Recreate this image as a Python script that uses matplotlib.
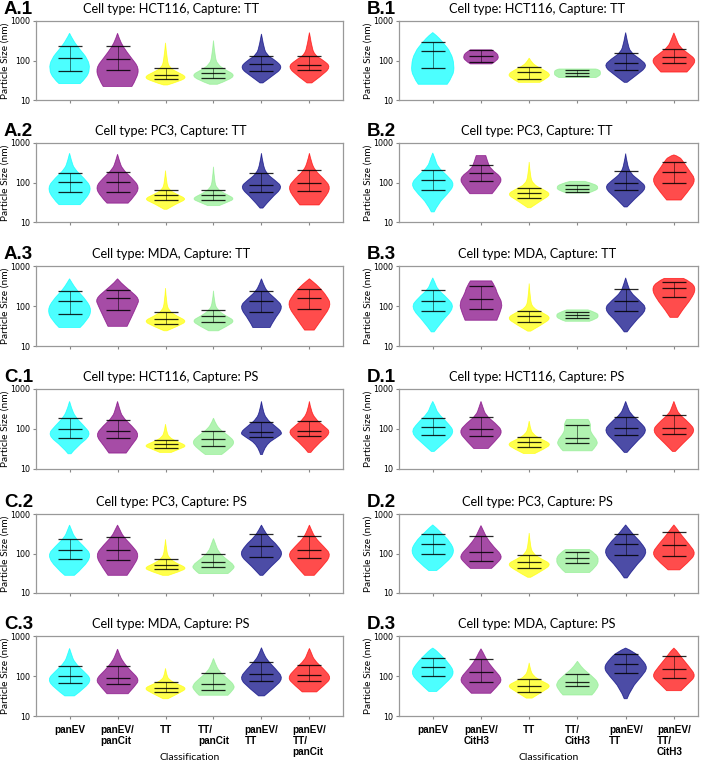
import numpy as np
import matplotlib
matplotlib.use('Agg')
import matplotlib.pyplot as plt
from matplotlib.path import Path
from matplotlib.patches import PathPatch
from matplotlib.ticker import NullLocator

#------------------------------------
# data
#   shapes: per violin (size nm, half width) from bottom to top
#   stats : per violin (low, mid, high) bars in nm
#------------------------------------

colors = ['cyan', 'purple', 'yellow', 'lightgreen', 'navy', 'red']

labels_left  = ['panEV', 'panEV/\npanCit', 'TT', 'TT/\npanCit', 'panEV/\nTT', 'panEV/\nTT/\npanCit']
labels_right = ['panEV', 'panEV/\nCitH3', 'TT', 'TT/\nCitH3', 'panEV/\nTT', 'panEV/\nTT/\nCitH3']

titles_left  = ['Cell type: HCT116, Capture: TT', 'Cell type: PC3, Capture: TT', 'Cell type: MDA, Capture: TT',
                'Cell type: HCT116, Capture: PS', 'Cell type: PC3, Capture: PS', 'Cell type: MDA, Capture: PS']
titles_right = titles_left
tags_left  = ['A.1', 'A.2', 'A.3', 'C.1', 'C.2', 'C.3']
tags_right = ['B.1', 'B.2', 'B.3', 'D.1', 'D.2', 'D.3']

a1_shapes = [
    [(26, .22), (35, .34), (60, .43), (110, .38), (200, .2), (330, .07), (490, 0)],
    [(22, .30), (35, .40), (65, .45), (120, .28), (220, .12), (350, .04), (490, 0)],
    [(24, .04), (30, .30), (38, .45), (50, .26), (65, .08), (110, .03), (280, 0)],
    [(25, .08), (32, .32), (43, .45), (57, .26), (80, .08), (130, .03), (320, 0)],
    [(27, .03), (40, .22), (65, .45), (100, .3), (140, .1), (250, .04), (470, 0)],
    [(27, .05), (40, .24), (68, .45), (100, .3), (140, .1), (260, .04), (510, 0)]]
a1_stats = [(54, 119, 229), (56, 112, 229), (35, 44, 63), (37, 47, 65), (54, 81, 129), (56, 79, 131)]

b1_shapes = [
    [(25, .30), (40, .42), (75, .45), (160, .38), (300, .2), (430, .08), (510, 0)],
    [(82, .22), (100, .34), (130, .37), (165, .30), (186, .22)],
    [(28, .22), (36, .38), (45, .44), (58, .3), (75, .12), (95, .04), (115, 0)],
    [(37, .38), (41, .47), (50, .48), (58, .46), (61, .38)],
    [(28, .03), (42, .22), (72, .46), (110, .3), (160, .1), (280, .04), (510, 0)],
    [(51, .27), (70, .38), (105, .46), (150, .3), (220, .12), (350, .05), (500, 0)]]
b1_stats = [(65, 169, 300), (93, 132, 186), (35, 51, 68), (41, 48, 57), (59, 86, 154), (86, 122, 194)]

a2_shapes = [
    [(27.5, .22), (40, .36), (75, .46), (130, .3), (220, .1), (350, .04), (550, 0)],
    [(30, .22), (45, .36), (77, .46), (130, .3), (220, .1), (350, .04), (520, 0)],
    [(21, .03), (30, .25), (38, .45), (50, .24), (65, .07), (100, .02), (200, 0)],
    [(26, .12), (32, .3), (39, .45), (52, .24), (70, .07), (110, .02), (250, 0)],
    [(22.5, .03), (40, .2), (75, .45), (115, .28), (170, .1), (300, .03), (550, 0)],
    [(27, .2), (40, .32), (75, .45), (125, .3), (200, .12), (330, .04), (550, 0)]]
a2_stats = [(59, 103, 179), (57, 103, 186), (37, 47, 63), (37, 47, 65), (59, 88, 179), (60, 99, 205)]

b2_shapes = [
    [(18, .03), (30, .12), (50, .3), (90, .46), (150, .3), (250, .1), (400, .05), (560, 0)],
    [(52, .23), (80, .36), (130, .45), (220, .2), (330, .14), (480, .1)],
    [(23, .03), (35, .25), (50, .46), (68, .28), (90, .08), (150, .02), (330, 0)],
    [(54, .22), (62, .38), (75, .44), (92, .36), (107, .15)],
    [(24, .03), (40, .2), (74, .45), (115, .28), (170, .1), (300, .03), (540, 0)],
    [(36, .15), (60, .3), (115, .46), (200, .32), (330, .2), (450, .12), (500, 0)]]
b2_stats = [(66, 119, 204), (108, 175, 270), (41, 53, 73), (57, 69, 86), (63, 98, 200), (98, 182, 330)]

a3_shapes = [
    [(29, .22), (45, .38), (80, .46), (140, .35), (250, .15), (380, .05), (480, 0)],
    [(31, .2), (55, .3), (100, .4), (150, .46), (250, .25), (380, .07), (480, 0)],
    [(24, .03), (32, .28), (42, .45), (55, .25), (75, .07), (120, .02), (280, 0)],
    [(24, .1), (32, .3), (43, .45), (57, .25), (80, .08), (120, .02), (240, 0)],
    [(29, .18), (45, .26), (94, .46), (150, .3), (230, .12), (350, .04), (480, 0)],
    [(25, .1), (45, .25), (104, .46), (180, .36), (300, .2), (400, .08), (480, 0)]]
a3_stats = [(64, 133, 233), (81, 162, 257), (36, 48, 71), (40, 55, 81), (71, 130, 233), (86, 158, 270)]

b3_shapes = [
    [(22.5, .03), (40, .18), (93, .46), (160, .3), (260, .1), (400, .04), (505, 0)],
    [(44, .33), (70, .4), (117, .45), (200, .34), (300, .3), (425, .22)],
    [(23.5, .03), (35, .28), (50, .46), (68, .28), (90, .07), (150, .02), (365, 0)],
    [(41.5, .25), (48, .40), (57, .44), (68, .40), (80, .22)],
    [(22.5, .03), (40, .18), (84, .46), (140, .28), (220, .1), (350, .04), (505, 0)],
    [(52, .08), (80, .18), (150, .36), (265, .46), (400, .36), (490, .2)]]
b3_stats = [(76, 134, 250), (84, 153, 315), (40, 55, 76), (50, 60, 72), (76, 134, 260), (172, 290, 400)]

c1_shapes = [
    [(24, .03), (36, .15), (71, .46), (120, .3), (200, .12), (330, .04), (490, 0)],
    [(25, .18), (40, .3), (71, .46), (120, .3), (200, .1), (330, .04), (490, 0)],
    [(26, .12), (32, .3), (38, .45), (48, .25), (62, .07), (90, .02), (132, 0)],
    [(23, .17), (33, .35), (48, .45), (70, .3), (100, .12), (150, .03), (187, 0)],
    [(23, .02), (40, .08), (65, .35), (80, .45), (120, .28), (180, .1), (300, .03), (490, 0)],
    [(26, .03), (40, .15), (80, .46), (120, .3), (180, .12), (300, .03), (490, 0)]]
c1_stats = [(61, 100, 187), (59, 87, 170), (34, 42.5, 53), (38, 55.5, 90), (62, 83, 148), (65, 90, 154)]

d1_shapes = [
    [(27.5, .03), (42, .2), (81, .46), (140, .32), (250, .1), (380, .05), (490, 0)],
    [(32.6, .15), (50, .3), (86, .46), (140, .3), (220, .1), (350, .04), (490, 0)],
    [(24.5, .12), (32, .32), (42, .46), (55, .26), (75, .07), (110, .02), (158, 0)],
    [(28.5, .30), (38, .40), (50, .42), (75, .30), (100, .26), (140, .28), (174, .22)],
    [(26, .03), (45, .2), (89, .46), (150, .3), (240, .1), (360, .04), (490, 0)],
    [(27.5, .03), (45, .2), (89, .46), (150, .3), (240, .1), (360, .04), (490, 0)]]
d1_stats = [(70, 114, 190), (65, 102, 198), (34.5, 46, 64.5), (44, 61, 123), (70, 108, 203), (74, 108, 218)]

c2_shapes = [
    [(28, .1), (45, .3), (91, .46), (150, .3), (260, .1), (400, .04), (525, 0)],
    [(28, .2), (45, .32), (91, .46), (160, .3), (270, .12), (400, .05), (525, 0)],
    [(28, .06), (35, .3), (43, .45), (55, .25), (75, .07), (120, .02), (228, 0)],
    [(31, .30), (40, .42), (50, .44), (70, .28), (110, .1), (180, .04), (240, 0)],
    [(28, .03), (50, .22), (91, .46), (160, .34), (260, .15), (400, .05), (525, 0)],
    [(28, .1), (45, .26), (91, .46), (150, .3), (250, .12), (400, .04), (525, 0)]]
c2_stats = [(72, 122, 228), (68, 126, 265), (40, 50.5, 74.5), (46, 61.5, 100), (82, 154, 310), (78, 126, 280)]

d2_shapes = [
    [(37, .08), (60, .3), (110, .46), (200, .36), (330, .18), (450, .07), (530, 0)],
    [(42, .22), (60, .36), (86, .45), (150, .26), (250, .12), (380, .05), (510, 0)],
    [(25, .03), (38, .3), (54, .46), (72, .26), (100, .07), (170, .02), (330, 0)],
    [(33, .25), (45, .38), (68, .45), (100, .38), (126, .25)],
    [(24, .03), (45, .18), (100, .46), (180, .34), (300, .16), (430, .06), (530, 0)],
    [(38.5, .12), (60, .3), (100, .46), (170, .32), (300, .15), (430, .06), (530, 0)]]
d2_stats = [(100, 178, 305), (66, 110, 276), (42, 61, 94), (56, 75, 108), (89, 178, 316), (87, 168, 346)]

c3_shapes = [
    [(31.8, .1), (50, .32), (82, .46), (130, .3), (220, .1), (350, .04), (490, 0)],
    [(36, .22), (55, .36), (82, .46), (140, .26), (240, .1), (350, .04), (470, 0)],
    [(27, .05), (38, .3), (49, .45), (62, .26), (80, .07), (110, .02), (155, 0)],
    [(33, .30), (45, .42), (59, .44), (85, .3), (130, .12), (200, .04), (275, 0)],
    [(31.8, .06), (50, .26), (87, .46), (150, .3), (250, .12), (380, .04), (510, 0)],
    [(40, .15), (60, .32), (90, .46), (150, .3), (250, .1), (380, .04), (490, 0)]]
c3_stats = [(67.5, 100, 180), (62, 90, 180), (40, 51, 71), (44, 62, 120), (74, 115, 227), (74, 105, 187)]

d3_shapes = [
    [(41, .08), (70, .3), (120, .46), (220, .32), (360, .14), (460, .05), (500, 0)],
    [(37, .2), (55, .34), (83, .45), (150, .26), (250, .12), (380, .05), (480, 0)],
    [(28, .06), (42, .3), (57, .46), (75, .26), (100, .08), (150, .02), (213, 0)],
    [(33.5, .30), (48, .42), (68, .44), (100, .3), (150, .12), (200, .04), (234, 0)],
    [(27, .03), (50, .12), (100, .34), (160, .46), (260, .34), (400, .18), (500, 0)],
    [(43, .15), (65, .3), (100, .46), (170, .32), (300, .15), (430, .06), (500, 0)]]
d3_stats = [(100, 166, 282), (72, 127, 270), (39, 55, 86), (55, 72, 114), (120, 205, 355), (91, 151, 324)]

left_shapes  = [a1_shapes, a2_shapes, a3_shapes, c1_shapes, c2_shapes, c3_shapes]
left_stats   = [a1_stats, a2_stats, a3_stats, c1_stats, c2_stats, c3_stats]
right_shapes = [b1_shapes, b2_shapes, b3_shapes, d1_shapes, d2_shapes, d3_shapes]
right_stats  = [b1_stats, b2_stats, b3_stats, d1_stats, d2_stats, d3_stats]


#------------------------------------
# drawing helpers
#------------------------------------
W, H = 709, 763
TXT = 'Lato'


def spline(pts):
    # smooth quadratic curve through the control points, mid points taken in log space
    vv, cc = [], []
    n = len(pts)
    if n == 2:
        return [pts[1]], [Path.LINETO]
    for i in range(1, n - 1):
        if i == n - 2:
            end = pts[n - 1]
        else:
            end = ((pts[i][0] + pts[i + 1][0]) / 2, np.sqrt(pts[i][1] * pts[i + 1][1]))
        vv += [pts[i], end]
        cc += [Path.CURVE3, Path.CURVE3]
    return vv, cc


def violin(ax, x0, prof, color):
    right = [(x0 + w, y) for y, w in prof]
    left  = [(x0 - w, y) for y, w in prof[::-1]]
    verts = [left[-1], right[0]]
    codes = [Path.MOVETO, Path.LINETO]
    v, c = spline(right)
    verts += v; codes += c
    verts.append(left[0]); codes.append(Path.LINETO)
    v, c = spline(left)
    verts += v; codes += c
    verts.append(left[-1]); codes.append(Path.CLOSEPOLY)
    ax.add_patch(PathPatch(Path(verts, codes), facecolor=color, edgecolor=color,
                           alpha=0.7, lw=0.6))


def panel(rect, shapes, stats, title, tag, tcx, xlabels, xmax):
    x, top, w, bot = rect
    ax = fig.add_axes([x / W, 1 - bot / H, w / W, (bot - top) / H])
    for i, (prof, st) in enumerate(zip(shapes, stats)):
        pos = i + 1
        violin(ax, pos, prof, colors[i])
        lo, mid, hi = st
        ax.hlines([lo, mid, hi], pos - 0.25, pos + 0.25, color='k', lw=0.9, alpha=0.85)
        ax.vlines(pos, lo, hi, color='k', lw=0.6, alpha=0.6)
    ax.set_yscale('log')
    ax.set_ylim(10, 1000)
    ax.set_xlim(0.3, xmax)
    ax.set_yticks([10, 100, 1000])
    ax.set_yticklabels(['10', '100', '1000'])
    ax.yaxis.set_minor_locator(NullLocator())
    ax.set_xticks(range(1, 7))
    ax.tick_params(labelsize=5.8, length=2.5, color='#888888', pad=1.5)
    for s in ax.spines.values():
        s.set_color('#999999')
        s.set_linewidth(0.9)
    ax.set_ylabel('Particle Size (nm)', fontsize=7.3, family=TXT, labelpad=0.3)
    if xlabels is None:
        ax.set_xticklabels([])
    else:
        ax.set_xticklabels(xlabels, fontsize=7.2, fontweight='bold', family='Liberation Sans',
                           multialignment='left', linespacing=1.1)
        ax.tick_params(axis='x', pad=4)
        ax.set_xlabel('Classification', fontsize=7.5, family=TXT, va='center')
        ax.xaxis.set_label_coords(0.5, -41 / (bot - top))
    fig.text(tcx / W, 1 - (top - 12) / H, title, ha='center', va='center', fontsize=9.2, family=TXT)
    fig.text((x - 32) / W, 1 - (top - 7) / H, tag, ha='left', va='baseline', fontsize=13.5,
             fontweight='bold', family='Liberation Sans')
    return ax


fig = plt.figure(figsize=(W / 100, H / 100), dpi=100)

rows = [(21, 100), (143, 222), (266, 346), (389, 469), (514, 593), (636, 716)]

for r, (top, bot) in enumerate(rows):
    last = r == len(rows) - 1
    panel((36, top, 307, bot), left_shapes[r], left_stats[r], titles_left[r], tags_left[r],
          171, labels_left if last else None, 6.7)
    panel((399, top, 299, bot), right_shapes[r], right_stats[r], titles_right[r], tags_right[r],
          537, labels_right if last else None, 6.5)

fig.savefig('out.png', dpi=100)
